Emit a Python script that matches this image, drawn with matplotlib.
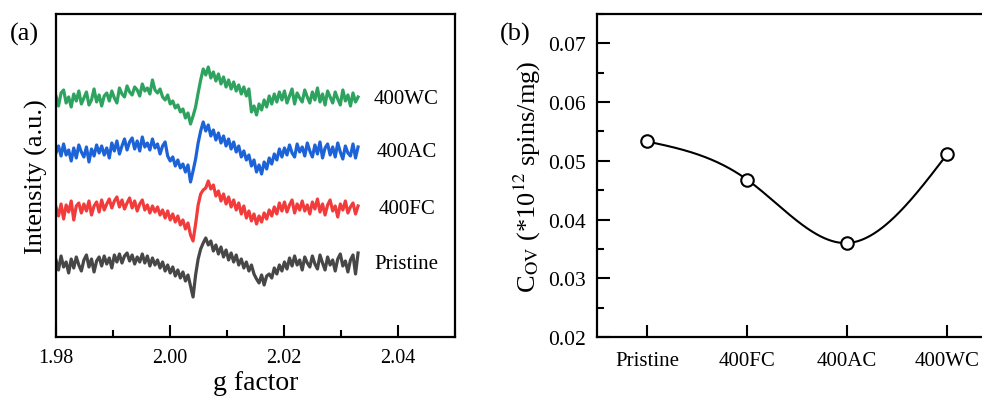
import numpy as np
import matplotlib
matplotlib.use('Agg')
import matplotlib.pyplot as plt
from matplotlib.ticker import MultipleLocator, FormatStrFormatter

plt.rcParams['font.family'] = ['Liberation Serif', 'DejaVu Serif']
plt.rcParams['mathtext.fontset'] = 'stix'

# ---- panel (a): EPR spectra (relative intensity) ----
g_start, g_end = 1.98, 2.033

pristine = [4, -6, 8, -3, 2, -9, 5, -4, 7, -1,
            -7, 4, 9, -3, 5, -8, 3, 7, -2, 8,
            0, 6, -4, 9, 2, 10, 1, 8, 11, 3,
            9, 0, 7, 2, 10, 1, 8, -2, 6, -1,
            4, -4, 2, -7, -1, -9, -3, -12, -6, -14,
            -8, -17, -11, -22, -33, -11, 5, 15, 21, 26,
            19, 23, 13, 19, 10, 17, 7, 14, 4, 11,
            2, 9, -1, 5, -4, 2, -7, -1, -10, -15,
            -19, -11, -21, -12, -10, -14, -4, -10, -1, -7,
            2, -5, 6, -2, 8, -1, 4, -6, 7, 1,
            -3, 8, 0, -5, 9, 1, -6, 7, -1, 4,
            -7, 5, 10, -2, 3, -8, 4, 9, -10, 11]

fc400 = [2, -7, 5, -10, 4, -3, 8, -11, 3, 6,
         -4, 5, -2, 8, -6, 3, 7, -3, 9, -1,
         5, 10, 1, 8, 12, 2, 9, 0, 6, 11,
         1, 8, -2, 5, 9, -1, 4, -4, 3, -3,
         2, -6, -1, -9, -2, -11, -5, -13, -7, -16,
         -11, -20, -14, -26, -32, -15, 4, 15, 19, 21,
         28, 20, 24, 13, 18, 8, 15, 5, 12, 2,
         9, -1, 6, -5, 3, -9, -2, -12, -5, -15,
         -7, -13, -4, -10, -1, -7, 2, -5, 6, -2,
         7, -3, 4, 9, -4, 5, -1, 8, -2, 4,
         -5, 7, 0, 10, -3, 5, -6, 4, 9, -2,
         3, -8, 5, -1, 8, -4, 2, 6, -5, 3]

ac400 = [-1, 6, -4, 8, -3, 2, -9, 4, -6, 7,
         0, -5, 5, -10, 3, -4, 7, -1, 6, -3,
         4, -6, 9, 1, 11, -2, 6, 13, 2, 10,
         14, 3, 11, 1, 15, 5, 9, 2, 13, 4,
         8, -2, 6, 10, -4, -9, -5, -14, -8, -16,
         -12, -20, -13, -30, -19, -7, 9, 21, 30, 21,
         27, 16, 22, 12, 19, 9, 16, 6, 13, 3,
         10, 0, 6, -5, 1, -8, -3, -14, -8, -20,
         -13, -22, -10, -17, -6, -12, -2, -8, 3, -5,
         4, -3, 7, -1, -5, 8, 0, 5, -4, 9,
         1, -5, 7, -2, 10, -6, 4, 8, -3, 5,
         -5, 9, 0, -7, 6, -1, -4, 8, -6, 5]

wc400 = [3, -7, 6, 9, -4, 2, -8, 5, -2, 8,
         -5, 1, 7, -6, -1, 10, -3, 4, -7, 3,
         6, -2, 8, 1, -4, 11, 5, 2, 13, 7,
         4, 12, 9, 3, 15, 8, 11, 5, 19, 9,
         6, 10, 2, -1, 4, -5, -2, -9, -6, -13,
         -10, -19, -14, -25, -17, -8, 6, 19, 30, 24,
         32, 21, 27, 18, 25, 15, 22, 12, 19, 10,
         17, 8, 14, 5, 12, 3, 10, -13, -7, -16,
         -5, -11, -1, -8, 3, -5, 5, -3, 7, -1,
         8, -4, 3, 10, -5, 6, 1, -3, 9, 2,
         -4, 7, -1, 11, -3, 5, -6, 8, 2, -4,
         7, 0, -6, 9, -2, 4, -7, 6, -3, 2]

spectra_labels = ['Pristine', '400FC', '400AC', '400WC']
spectra_offsets = [73, 128, 185, 238]
spectra_colors = ['#474747', '#f23c3c', '#1c63d8', '#2ea35f']

# ---- panel (b): oxygen vacancy concentration ----
samples = ['Pristine', '400FC', '400AC', '400WC']
c_ov = [0.0533, 0.0468, 0.0360, 0.0511]

fig = plt.figure(figsize=(9.82, 4.06), dpi=100)

ax1 = fig.add_axes([0.057, 0.1675, 0.4063, 0.7956])
for y, off, col, lab in zip([pristine, fc400, ac400, wc400], spectra_offsets,
                            spectra_colors, spectra_labels):
    y = np.array(y, dtype=float)
    g = np.linspace(g_start, g_end, len(y))
    ax1.plot(g, y + off, color=col, lw=2.3)
    ax1.text(2.0415, off, lab, ha='center', va='center', fontsize=15)

ax1.set_xlim(1.98, 2.05)
ax1.set_ylim(0, 323)
ax1.set_yticks([])
ax1.xaxis.set_major_locator(MultipleLocator(0.02))
ax1.xaxis.set_minor_locator(MultipleLocator(0.01))
ax1.xaxis.set_major_formatter(FormatStrFormatter('%.2f'))
ax1.tick_params(axis='x', which='major', direction='in', length=9, width=1.5,
                labelsize=14.5, pad=8)
ax1.tick_params(axis='x', which='minor', direction='in', length=5, width=1.5)
ax1.set_xlabel('g factor', fontsize=20, labelpad=2)
ax1.set_ylabel('Intensity (a.u.)', fontsize=19, labelpad=6)
for s in ax1.spines.values():
    s.set_linewidth(1.6)
fig.text(0.010, 0.915, '(a)', fontsize=19, ha='left', va='center')

# natural cubic spline through the four points for the smooth line
xp = np.arange(len(c_ov), dtype=float)
yp = np.array(c_ov)
n = len(xp)
A = np.zeros((n, n))
b = np.zeros(n)
A[0, 0] = A[-1, -1] = 1
for i in range(1, n - 1):
    A[i, i - 1], A[i, i], A[i, i + 1] = 1, 4, 1
    b[i] = 6 * (yp[i + 1] - 2 * yp[i] + yp[i - 1])
M = np.linalg.solve(A, b)
xs = np.linspace(xp[0], xp[-1], 300)
idx = np.clip(np.floor(xs).astype(int), 0, n - 2)
t = xs - xp[idx]
ys = (M[idx] * (1 - t) ** 3 / 6 + M[idx + 1] * t ** 3 / 6
      + (yp[idx] - M[idx] / 6) * (1 - t) + (yp[idx + 1] - M[idx + 1] / 6) * t)

ax2 = fig.add_axes([0.608, 0.1675, 0.4073, 0.7956])
ax2.plot(xs, ys, color='black', lw=1.5)
ax2.plot(xp, yp, 'o', ms=9, mfc='white', mec='black', mew=1.5)
ax2.set_xlim(-0.5, 3.5)
ax2.set_ylim(0.02, 0.075)
ax2.set_xticks(xp)
ax2.set_xticklabels(samples)
ax2.yaxis.set_major_locator(MultipleLocator(0.01))
ax2.yaxis.set_minor_locator(MultipleLocator(0.005))
ax2.yaxis.set_major_formatter(FormatStrFormatter('%.2f'))
ax2.tick_params(axis='y', which='major', direction='in', length=9, width=1.5,
                labelsize=15.5, pad=8)
ax2.tick_params(axis='x', which='major', direction='in', length=9, width=1.5,
                labelsize=15, pad=10)
ax2.tick_params(axis='y', which='minor', direction='in', length=5, width=1.5)
ax2.set_ylabel(r'C$_{\mathrm{OV}}$ (*10$^{12}$ spins/mg)', fontsize=19, labelpad=4)
for s in ax2.spines.values():
    s.set_linewidth(1.6)
fig.text(0.509, 0.915, '(b)', fontsize=19, ha='left', va='center')

fig.savefig('out.png', dpi=100)
